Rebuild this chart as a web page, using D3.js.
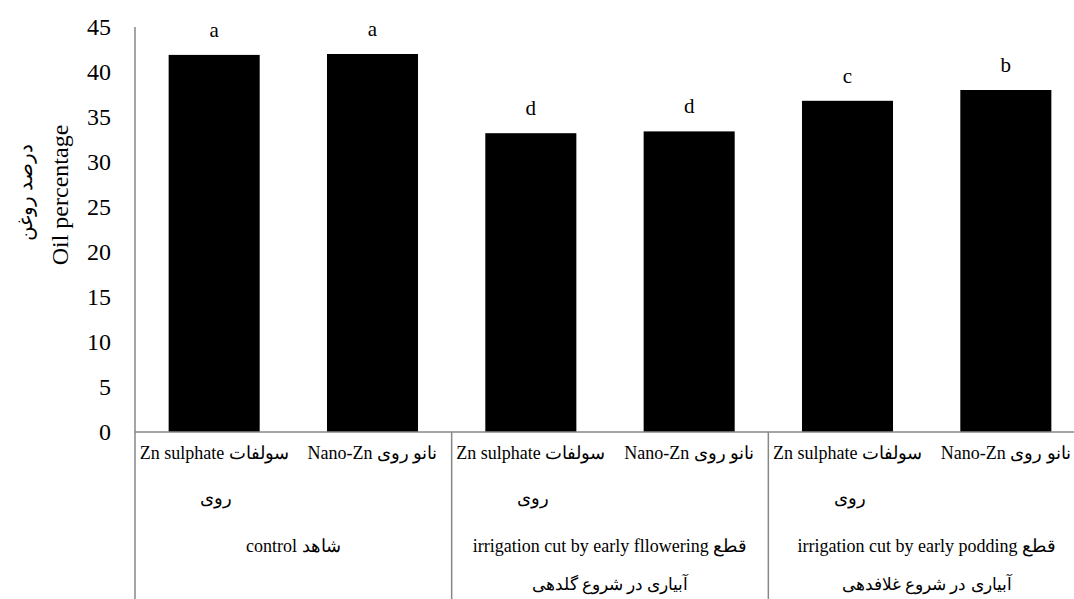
<!DOCTYPE html>
<html>
<head>
<meta charset="utf-8">
<script src="https://cdn.jsdelivr.net/npm/d3@7"></script>
<style>
  html, body { margin: 0; padding: 0; background: #fff; }
  svg { display: block; }
</style>
</head>
<body>
<svg id="chart" width="1074" height="599"></svg>
<script>
// ---- data ----
const categories = ["c1", "c2", "c3", "c4", "c5", "c6"];
const values = [41.9, 42.0, 33.2, 33.4, 36.8, 38.0];
const letters = ["a", "a", "d", "d", "c", "b"];
const subLine1 = ["Zn sulphate  سولفات", "Nano-Zn نانو روی", "Zn sulphate  سولفات", "Nano-Zn نانو روی", "Zn sulphate  سولفات", "Nano-Zn نانو روی"];
const subLine2 = ["روی", "", "روی", "", "روی", ""];
const groupLine1 = ["control شاهد", "irrigation cut by early fllowering قطع", "irrigation cut by early podding قطع"];
const groupLine2 = ["", "آبیاری در شروع گلدهی", "آبیاری در شروع غلافدهی"];
const yTicks = [0, 5, 10, 15, 20, 25, 30, 35, 40, 45];
const yTitle = "Oil percentage";
const yTitleFa = "درصد روغن";

(function () {
// ---- layout ----
const FONT = "'Liberation Serif', Tinos, 'Times New Roman', 'DejaVu Serif', serif";
const svg = d3.select("#chart").attr("font-family", FONT);
const mLeft = 135, mRight = 1085, mTop = 27, mBottom = 432;
const axisColor = "#878787";

const x = d3.scaleBand().domain(categories).range([mLeft, mRight])
  .paddingInner(0.425).paddingOuter(0.2125);
const y = d3.scaleLinear().domain([0, 45]).range([mBottom, mTop]);

// bars
svg.append("g").selectAll("rect").data(values).join("rect")
  .attr("x", (d, i) => x(categories[i]))
  .attr("y", d => y(d))
  .attr("width", x.bandwidth())
  .attr("height", d => y(0) - y(d))
  .attr("fill", "#000");

const T = (sel) => sel.style("font-family", FONT).attr("fill", "#000");

// significance letters
svg.append("g").selectAll("text").data(values).join("text")
  .call(T)
  .attr("x", (d, i) => x(categories[i]) + x.bandwidth() / 2)
  .attr("y", d => y(d) - 18)
  .attr("text-anchor", "middle")
  .attr("font-size", 21)
  .text((d, i) => letters[i]);

// y axis line (extends through category area)
svg.append("line")
  .attr("x1", mLeft).attr("x2", mLeft)
  .attr("y1", y(45)).attr("y2", 599)
  .attr("stroke", axisColor).attr("stroke-width", 1.5);

// y tick labels
svg.append("g").selectAll("text").data(yTicks).join("text")
  .call(T)
  .attr("x", mLeft - 24)
  .attr("y", d => y(d))
  .attr("dy", "0.35em")
  .attr("text-anchor", "end")
  .attr("font-size", 24)
  .text(d => d);

// x axis line
svg.append("line")
  .attr("x1", mLeft).attr("x2", mRight)
  .attr("y1", y(0)).attr("y2", y(0))
  .attr("stroke", axisColor).attr("stroke-width", 1.5);

// group separators
const step = x.step();
const groupEdges = [2, 4].map(k => mLeft + k * step);
svg.append("g").selectAll("line").data(groupEdges).join("line")
  .attr("x1", d => d).attr("x2", d => d)
  .attr("y1", y(0)).attr("y2", 599)
  .attr("stroke", axisColor).attr("stroke-width", 1.5);

// sub-category labels
const row1 = y(0) + 27, row2 = row1 + 45, row3 = row2 + 48, row4 = row3 + 38;
svg.append("g").selectAll("text").data(subLine1).join("text")
  .call(T)
  .attr("x", (d, i) => x(categories[i]) + x.bandwidth() / 2)
  .attr("y", row1)
  .attr("text-anchor", "middle")
  .attr("font-size", 18)
  .text(d => d);
svg.append("g").selectAll("text").data(subLine2).join("text")
  .call(T)
  .attr("x", (d, i) => x(categories[i]) + x.bandwidth() / 2 + 2)
  .attr("y", row2)
  .attr("text-anchor", "middle")
  .attr("font-size", 18)
  .text(d => d);

// group labels
const groupCenter = i => mLeft + (2 * i + 1) * step;
svg.append("g").selectAll("text").data(groupLine1).join("text")
  .call(T)
  .attr("x", (d, i) => groupCenter(i))
  .attr("y", row3)
  .attr("text-anchor", "middle")
  .attr("font-size", 18)
  .text(d => d);
svg.append("g").selectAll("text").data(groupLine2).join("text")
  .call(T)
  .attr("x", (d, i) => groupCenter(i))
  .attr("y", row4)
  .attr("text-anchor", "middle")
  .attr("font-size", 17)
  .text(d => d);

// y titles
svg.append("text")
  .call(T)
  .attr("transform", "translate(68,195) rotate(-90)")
  .attr("text-anchor", "middle")
  .attr("font-size", 24)
  .text(yTitle);
svg.append("text")
  .call(T)
  .attr("transform", "translate(32,192) rotate(-90)")
  .attr("text-anchor", "middle")
  .attr("font-size", 20)
  .text(yTitleFa);
})();
</script>
</body>
</html>
